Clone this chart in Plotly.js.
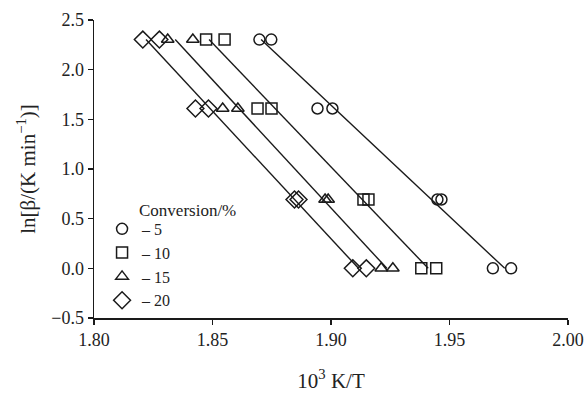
<!DOCTYPE html>
<html>
<head>
<meta charset="utf-8">
<script src="https://cdn.plot.ly/plotly-3.0.1.min.js"></script>
<style>html,body{margin:0;padding:0;background:#fff;}#chart{width:587px;height:398px;}</style>
</head>
<body>
<div id="chart"></div>
<script>
// ln(beta) levels (beta = 10, 5, 2, 1 K/min), two measurements each
const lnBeta = [2.303, 2.303, 1.609, 1.609, 0.693, 0.693, 0.0, 0.0];
const seriesNames = ["– 5", "– 10", "– 15", "– 20"];
const x5  = [1.8698, 1.8748, 1.8943, 1.9006, 1.9449, 1.9466, 1.9683, 1.9760];
const x10 = [1.8473, 1.8551, 1.8690, 1.8749, 1.9137, 1.9158, 1.9381, 1.9444];
const x15 = [1.8311, 1.8417, 1.8543, 1.8607, 1.8975, 1.8988, 1.9212, 1.9261];
const x20 = [1.8206, 1.8276, 1.8428, 1.8483, 1.8846, 1.8863, 1.9092, 1.9149];
const xTickVals = [1.80, 1.85, 1.90, 1.95, 2.00];
const xTickText = ["1.80", "1.85", "1.90", "1.95", "2.00"];
const yTickVals = [-0.5, 0, 0.5, 1.0, 1.5, 2.0, 2.5];
const yTickText = ["−0.5", "0.0", "0.5", "1.0", "1.5", "2.0", "2.5"];
const symbols = ["circle-open", "square-open", "triangle-up-open", "diamond-open"];
const sizes = [11, 11, 11, 13];

const xs = [x5, x10, x15, x20];
const ink = "#1a1a1a";
const traces = [];

function fitLine(xv, yv) {
  // least squares fit x = a + b*y, drawn between the extreme ln(beta) levels
  const n = xv.length;
  const my = yv.reduce((s, v) => s + v, 0) / n;
  const mx = xv.reduce((s, v) => s + v, 0) / n;
  let sxy = 0, syy = 0;
  for (let i = 0; i < n; i++) { sxy += (yv[i] - my) * (xv[i] - mx); syy += (yv[i] - my) ** 2; }
  const b = sxy / syy, a = mx - b * my;
  const yTop = Math.max(...yv), yBot = Math.min(...yv);
  return { x: [a + b * yTop, a + b * yBot], y: [yTop, yBot] };
}

xs.forEach((xv) => {
  const f = fitLine(xv, lnBeta);
  traces.push({ x: f.x, y: f.y, mode: "lines", line: { color: ink, width: 1.4 }, showlegend: false, hoverinfo: "skip" });
});
xs.forEach((xv, i) => {
  traces.push({
    x: xv, y: lnBeta, mode: "markers", name: seriesNames[i],
    marker: { symbol: symbols[i], size: sizes[i], color: ink, line: { width: 1.5, color: ink } }
  });
});

const fam = "Liberation Serif";
const F = (s) => ({ family: fam, size: s, color: "#222" });
const layout = {
  width: 587, height: 398,
  margin: { l: 94, r: 19, t: 20, b: 80 },
  paper_bgcolor: "#fff", plot_bgcolor: "#fff",
  font: F(16),
  showlegend: true,
  legend: {
    x: 0.017, y: 0.356, xanchor: "left", yanchor: "top",
    bgcolor: "rgba(0,0,0,0)", borderwidth: 0,
    font: F(16), itemwidth: 30, tracegroupgap: 0
  },
  xaxis: {
    range: [1.80, 2.00], tickvals: xTickVals, ticktext: xTickText,
    showgrid: false, zeroline: false, showline: true, linecolor: ink, linewidth: 1.5,
    ticks: "outside", ticklen: 5, tickwidth: 1.5, tickcolor: ink,
    tickfont: F(18),
    title: { text: "10<sup>3</sup> K/T", font: F(21), standoff: 24 }
  },
  yaxis: {
    range: [-0.5, 2.5], tickvals: yTickVals, ticktext: yTickText,
    showgrid: false, zeroline: false, showline: true, linecolor: ink, linewidth: 1.5,
    ticks: "outside", ticklen: 5, tickwidth: 1.5, tickcolor: ink,
    tickfont: F(18),
    title: { text: "ln[β/(K min<sup>−1</sup>)]", font: F(21), standoff: 10 }
  },
  annotations: [{
    text: "Conversion/%", xref: "paper", yref: "paper", x: 0.0907, y: 0.362,
    xanchor: "left", yanchor: "middle", showarrow: false,
    font: F(17)
  }]
};

Plotly.newPlot("chart", traces, layout, { displayModeBar: false, staticPlot: true });
</script>
</body>
</html>
